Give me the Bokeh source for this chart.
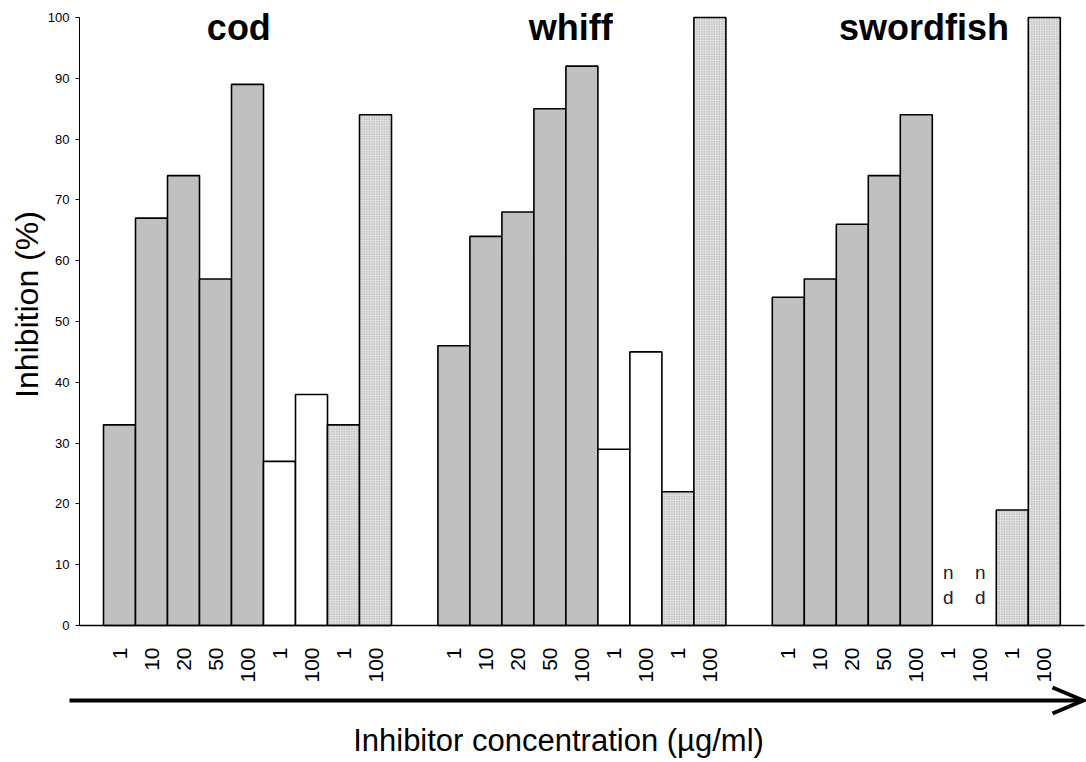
import math
from bokeh.plotting import figure
from bokeh.models import ColumnDataSource, FixedTicker, Range1d
from bokeh.core.properties import value
from bokeh.embed import file_html
from bokeh.resources import INLINE

# ---------------- data ----------------
species = ["cod", "whiff", "swordfish"]
conc_labels = ["1", "10", "20", "50", "100", "1", "100", "1", "100"]
series_kind = ["gray"] * 5 + ["white"] * 2 + ["stipple"] * 2
cod = [33, 67, 74, 57, 89, 27, 38, 33, 84]
whiff = [46, 64, 68, 85, 92, 29, 45, 22, 100]
swordfish = [54, 57, 66, 74, 84, None, None, 19, 100]   # None = not determined (nd)
y_ticks = [0, 10, 20, 30, 40, 50, 60, 70, 80, 90, 100]

values = [cod, whiff, swordfish]
GAP = 1.45          # empty slots between species groups
N = len(conc_labels)
FONT = "Liberation Sans"

# ---------------- build positions ----------------
xs, tops, kinds, tick_lbl = [], [], [], {}
nd_x = []
for g, vals in enumerate(values):
    for i, v in enumerate(vals):
        x = round(g * (N + GAP) + i + 0.5, 3)
        tick_lbl[x] = conc_labels[i]
        if v is None:
            nd_x.append(x)
            continue
        xs.append(x); tops.append(v); kinds.append(series_kind[i])

def src(kind):
    return ColumnDataSource(dict(
        x=[x for x, k in zip(xs, kinds) if k == kind],
        top=[t for t, k in zip(tops, kinds) if k == kind]))

# canvas geometry: one slot = 32 px, 1 % = 6.08 px, origin (x=-0.75, y=0) at pixel (79, 625)
W, H = 1086, 762
SX, SY, OX, OY = 32.0, 6.08, 79.0, 625.0
def dx(px): return -0.75 + (px - OX) / SX
def dy(py): return (OY - py) / SY

X0 = -0.75
X1 = dx(1084)
p = figure(width=W, height=H, output_backend="svg", toolbar_location=None,
           x_range=Range1d(dx(0), dx(W)), y_range=Range1d(dy(H), dy(0)),
           min_border=0)
p.outline_line_color = None
p.grid.visible = False
p.background_fill_color = "white"
p.border_fill_color = "white"

p.vbar(x="x", top="top", width=1, bottom=0, source=src("gray"),
       fill_color="#c0c0c0", line_color="black", line_width=1.6)
p.vbar(x="x", top="top", width=1, bottom=0, source=src("white"),
       fill_color="white", line_color="black", line_width=1.6)
p.vbar(x="x", top="top", width=1, bottom=0, source=src("stipple"),
       fill_color="#e2e2e2", hatch_pattern="dot", hatch_color="#9a9a9a",
       hatch_scale=2.5, hatch_weight=1, line_color="black", line_width=1.6)

# nd markers
p.text(x=nd_x, y=[8.7] * len(nd_x), text=["n"] * len(nd_x), text_align="center",
       text_baseline="middle", text_font=value(FONT), text_font_size="19px", text_color="#222222")
p.text(x=nd_x, y=[4.6] * len(nd_x), text=["d"] * len(nd_x), text_align="center",
       text_baseline="middle", text_font=value(FONT), text_font_size="19px", text_color="#222222")

# x axis (fixed at y = 0)
xa = p.xaxis[0]
xa.fixed_location = 0
xa.bounds = (X0, X1)
xa.ticker = FixedTicker(ticks=sorted(tick_lbl.keys()))
xa.major_label_overrides = tick_lbl
xa.major_label_orientation = math.pi / 2
xa.major_label_text_font = FONT
xa.major_label_text_font_size = "21px"
xa.major_label_text_color = "black"
xa.major_label_standoff = 22
xa.major_tick_out = 0
xa.major_tick_in = 0
xa.minor_tick_out = 0
xa.minor_tick_in = 0
xa.axis_line_color = "black"
xa.axis_line_width = 1.5

# y axis (fixed at the left edge of the first bar area)
ya = p.yaxis[0]
ya.fixed_location = X0
ya.bounds = (0, 100)
ya.ticker = FixedTicker(ticks=y_ticks)
ya.major_label_text_font = FONT
ya.major_label_text_font_size = "13px"
ya.major_label_text_color = "black"
ya.major_label_standoff = 6
ya.major_tick_out = 4
ya.major_tick_in = 0
ya.minor_tick_out = 0
ya.minor_tick_in = 0
ya.axis_line_color = "black"
ya.major_tick_line_color = "black"

# y title
p.text(x=[dx(26)], y=[dy(304)], text=["Inhibition (%)"], angle=math.pi / 2,
       text_align="center", text_baseline="middle", text_font=value(FONT),
       text_font_size="32px", text_color="black")

# species titles
title_shift = [-0.27, -0.35, 0.24]
p.text(x=[g * (N + GAP) + N / 2 + title_shift[g] for g in range(len(species))],
       y=[dy(27)] * len(species), text=species, text_align="center", text_baseline="middle",
       text_font=value(FONT), text_font_size="36px", text_font_style="bold", text_color="black")

# arrow + x title
ay = dy(700)
p.line(x=[dx(69), dx(1082)], y=[ay, ay], line_width=4, line_color="black")
p.line(x=[dx(1052), dx(1083), dx(1052)], y=[dy(687), ay, dy(713)], line_width=4,
       line_color="black", line_join="miter")
p.text(x=[dx(558)], y=[dy(740)], text=["Inhibitor concentration (µg/ml)"], text_align="center",
       text_baseline="middle", text_font=value(FONT), text_font_size="31px", text_color="black")

open("out.html", "w").write(file_html(p, INLINE))
